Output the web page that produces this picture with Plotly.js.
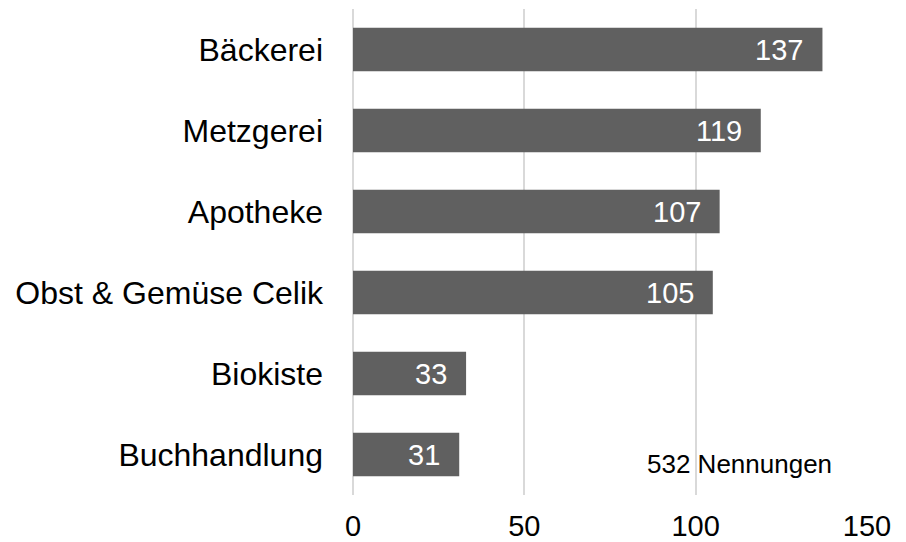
<!DOCTYPE html>
<html>
<head>
<meta charset="utf-8">
<script src="https://cdn.plot.ly/plotly-3.0.1.min.js"></script>
<style>html,body{margin:0;padding:0;background:#fff;}#chart{width:906px;height:542px;}</style>
</head>
<body>
<div id="chart"></div>
<script>
const categories = ["Bäckerei", "Metzgerei", "Apotheke", "Obst & Gemüse Celik", "Biokiste", "Buchhandlung"];
const values = [137, 119, 107, 105, 33, 31];
const xTickVals = [0, 50, 100, 150];
const noteText = "532 Nennungen";

const font = "Arial, 'Liberation Sans', sans-serif";

const trace = {
  type: "bar",
  orientation: "h",
  x: values,
  y: categories,
  width: 0.54,
  marker: {color: "#606060"},
  hoverinfo: "none"
};

const annotations = categories.map((c, i) => ({
  x: values[i], y: c, xref: "x", yref: "y",
  text: String(values[i]),
  showarrow: false, xanchor: "right", yanchor: "middle",
  xshift: -17,
  font: {family: font, size: 29, color: "#ffffff"}
}));
annotations.push({
  x: 0.751, y: 0.064, xref: "paper", yref: "paper",
  text: noteText, showarrow: false, xanchor: "center", yanchor: "middle",
  font: {family: font, size: 26, color: "#000000"}
});

const layout = {
  width: 906, height: 542,
  margin: {l: 353, r: 39, t: 9, b: 47, pad: 0},
  paper_bgcolor: "#ffffff", plot_bgcolor: "#ffffff",
  showlegend: false,
  bargap: 0.46,
  xaxis: {
    range: [0, 150], tickvals: xTickVals, ticktext: xTickVals.map(String),
    showgrid: true, gridcolor: "#d9d9d9", gridwidth: 2,
    zeroline: true, zerolinecolor: "#d9d9d9", zerolinewidth: 2,
    showline: false, ticks: "", ticklabelstandoff: 11,
    tickfont: {family: font, size: 29, color: "#000000"}
  },
  yaxis: {
    autorange: "reversed", type: "category",
    showgrid: false, zeroline: false, showline: false,
    ticks: "", ticklabelstandoff: 29,
    tickfont: {family: font, size: 32, color: "#000000"}
  },
  annotations: annotations
};

Plotly.newPlot("chart", [trace], layout, {staticPlot: true, displayModeBar: false});
</script>
</body>
</html>
